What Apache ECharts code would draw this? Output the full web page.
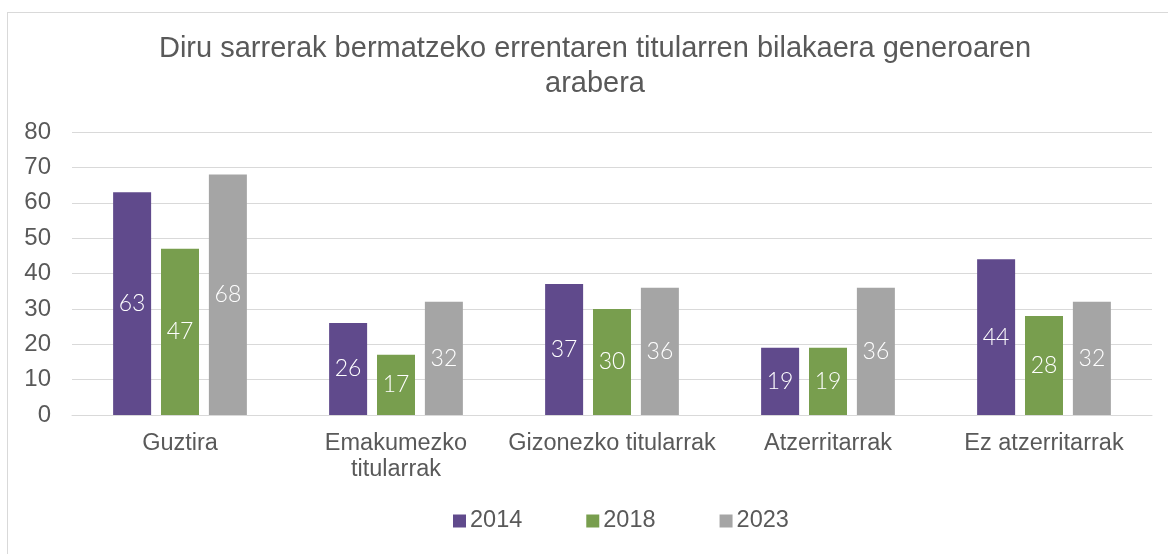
<!DOCTYPE html>
<html>
<head>
<meta charset="utf-8">
<script src="https://cdn.jsdelivr.net/npm/echarts@6/dist/echarts.min.js"></script>
<style>
    html, body { margin: 0; padding: 0; background: #fff; }
    #wrap { position: relative; width: 1168px; height: 554px; overflow: hidden; }
    #frame { position: absolute; left: 7px; top: 12px; width: 1300px; height: 700px;
        border-left: 1px solid #d9d9d9; border-top: 1px solid #d9d9d9; }
    #chart { position: absolute; left: 0; top: 0; width: 1168px; height: 554px; }
</style>
</head>
<body>
<div id="wrap">
    <div id="frame"></div>
    <div id="chart"></div>
</div>
<script>
const categories = ['Guztira', 'Emakumezko\ntitularrak', 'Gizonezko titularrak', 'Atzerritarrak', 'Ez atzerritarrak'];
const years = ['2014', '2018', '2023'];
const values2014 = [63, 26, 37, 19, 44];
const values2018 = [47, 17, 30, 19, 28];
const values2023 = [68, 32, 36, 36, 32];
const colors = ['#604a8c', '#789e4e', '#a5a5a5'];

const textColor = '#595959';
const font = "'Liberation Sans', Arial, sans-serif";

const myChart = echarts.init(document.getElementById('chart'), null, { renderer: 'canvas' });

function makeSeries(name, data, color) {
    return {
        name: name,
        type: 'bar',
        data: data,
        barWidth: 38,
        barGap: '26%',
        itemStyle: { color: color },
        label: {
            show: true,
            position: 'inside',
            color: '#fff',
            fontSize: 23,
            fontFamily: "Lato, 'Noto Sans', sans-serif",
            fontWeight: 300,
        },
    };
}

const option = {
    animation: false,
    title: {
        text: 'Diru sarrerak bermatzeko errentaren titularren bilakaera generoaren\narabera',
        left: 595,
        top: 31,
        padding: 0,
        textAlign: 'center',
        textStyle: {
            color: textColor,
            fontSize: 29,
            lineHeight: 35,
            fontWeight: 'normal',
            fontFamily: font,
        },
    },
    legend: {
        data: years,
        left: 453,
        top: 509,
        padding: 0,
        itemWidth: 13,
        itemHeight: 13,
        itemGap: 64,
        icon: 'rect',
        textStyle: { color: textColor, fontSize: 23.5, fontFamily: font, padding: [0, 0, 0, -1] },
    },
    grid: { left: 72, right: 16, top: 132, bottom: 139 },
    xAxis: {
        type: 'category',
        data: categories,
        axisLine: { lineStyle: { color: '#d9d9d9', width: 1 } },
        axisTick: { show: false },
        axisLabel: {
            color: textColor,
            fontSize: 23.5,
            lineHeight: 26,
            margin: 16,
            fontFamily: font,
            interval: 0,
        },
    },
    yAxis: {
        type: 'value',
        min: 0,
        max: 80,
        interval: 10,
        axisLine: { show: false },
        axisTick: { show: false },
        axisLabel: { color: textColor, fontSize: 24, margin: 21, fontFamily: font },
        splitLine: { lineStyle: { color: '#d9d9d9', width: 1 } },
    },
    series: [
        makeSeries(years[0], values2014, colors[0]),
        makeSeries(years[1], values2018, colors[1]),
        makeSeries(years[2], values2023, colors[2]),
    ],
};
myChart.setOption(option);
</script>
</body>
</html>
